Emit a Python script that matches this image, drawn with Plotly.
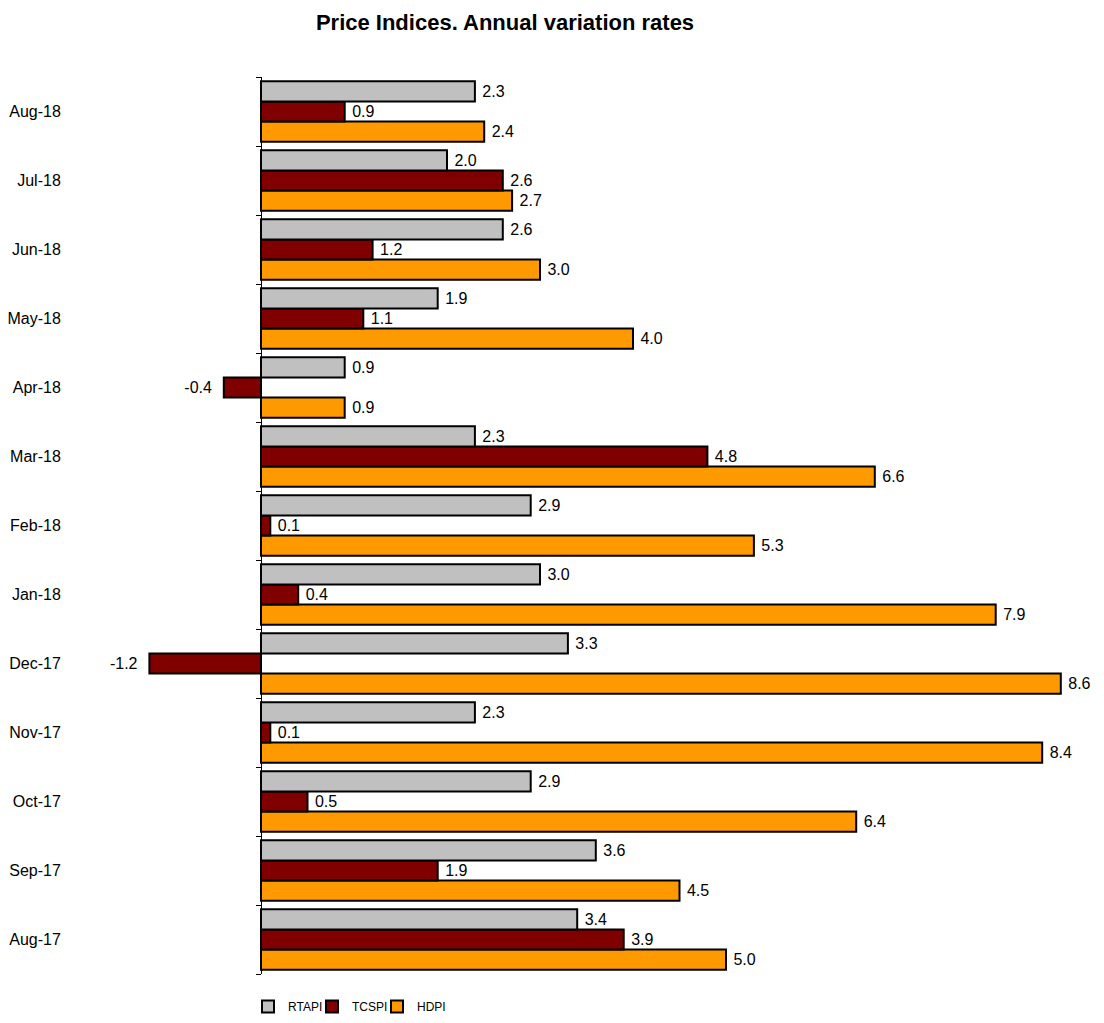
import plotly.graph_objects as go

categories = ["Aug-17", "Sep-17", "Oct-17", "Nov-17", "Dec-17", "Jan-18", "Feb-18",
              "Mar-18", "Apr-18", "May-18", "Jun-18", "Jul-18", "Aug-18"]
rtapi = [3.4, 3.6, 2.9, 2.3, 3.3, 3.0, 2.9, 2.3, 0.9, 1.9, 2.6, 2.0, 2.3]
tcspi = [3.9, 1.9, 0.5, 0.1, -1.2, 0.4, 0.1, 4.8, -0.4, 1.1, 1.2, 2.6, 0.9]
hdpi = [5.0, 4.5, 6.4, 8.4, 8.6, 7.9, 5.3, 6.6, 0.9, 4.0, 3.0, 2.7, 2.4]

# figure sized to fit inside the page's 8px body margin
W, H = 1088, 1007
ML, MR, MT, MB = 92, 8, 69, 41
ZERO_PX = 253
PX_PER_UNIT = 93.0
x_min = -(ZERO_PX - ML) / PX_PER_UNIT
x_max = (W - MR - ZERO_PX) / PX_PER_UNIT
zero_pos = (0 - x_min) / (x_max - x_min)

font_family = "Liberation Sans, Arial, sans-serif"


def label(v):
    return f" {v:.1f}" if v >= 0 else f"{v:.1f}  "


fig = go.Figure()
# added bottom-to-top inside each group: HDPI, TCSPI, RTAPI
series = [("HDPI", hdpi, "#FF9900", "legend3"),
          ("TCSPI", tcspi, "#800000", "legend2"),
          ("RTAPI", rtapi, "#C0C0C0", "legend")]
for name, vals, color, leg in series:
    fig.add_trace(go.Bar(
        name=name, x=vals, y=categories, orientation="h", legend=leg,
        marker=dict(color=color, line=dict(color="black", width=2)),
        text=[label(v) for v in vals], texttemplate="%{text}", textposition="outside",
        textfont=dict(size=16, color="black", family=font_family),
        cliponaxis=False, constraintext="none",
    ))


def legend_at(x_px):
    return dict(orientation="h", xref="container", x=x_px / W, xanchor="left",
                yref="container", y=1 - 984 / H, yanchor="top",
                font=dict(size=12, family=font_family, color="black"),
                itemwidth=30, bgcolor="rgba(0,0,0,0)")


fig.update_layout(
    width=W, height=H,
    margin=dict(l=ML, r=MR, t=MT, b=MB, autoexpand=False),
    paper_bgcolor="white", plot_bgcolor="white",
    barmode="group", bargap=0.12, bargroupgap=0,
    font=dict(family=font_family, color="black"),
    title=dict(text="<b>Price Indices. Annual variation rates</b>",
               x=497 / W, xanchor="center", y=1 - 14 / H, yanchor="middle",
               font=dict(size=22, family=font_family, color="black")),
    xaxis=dict(range=[x_min, x_max], showgrid=False, zeroline=False,
               showticklabels=False, ticks="", showline=False, automargin=False),
    yaxis=dict(type="category", categoryorder="array", categoryarray=categories,
               range=[-0.5, len(categories) - 0.5], showgrid=False,
               anchor="free", position=zero_pos,
               showline=True, linecolor="black", linewidth=1,
               ticks="outside", tickson="boundaries", ticklen=5, tickcolor="black",
               tickwidth=1, tickfont=dict(size=16, family=font_family, color="black"),
               ticklabelstandoff=197, automargin=False),
    legend=legend_at(240),
    legend2=legend_at(304),
    legend3=legend_at(369),
    showlegend=True,
)

fig.write_html("out.html")
